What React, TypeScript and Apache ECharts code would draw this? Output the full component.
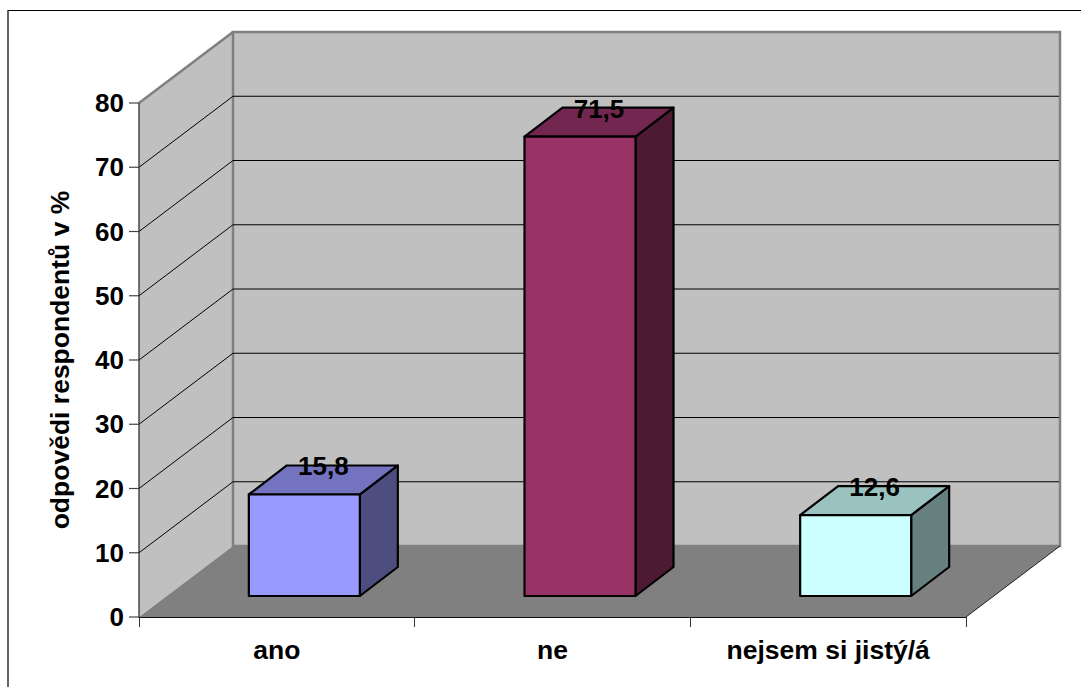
import React, { useEffect, useRef } from "react";
import * as echarts from "echarts";

const categories = ["ano", "ne", "nejsem si jistý/á"];
const values = [15.8, 71.5, 12.6];
const gridValues = [10, 20, 30, 40, 50, 60, 70];
const tickValues = [0, 10, 20, 30, 40, 50, 60, 70, 80];
const yMin = 0;
const yMax = 80;
const yStep = 10;

const frontColors = ["#9999FF", "#993366", "#CCFFFF"];
const topColors = ["#7373C0", "#732650", "#99C2C0"];
const sideColors = ["#4D4D80", "#4D1A33", "#668080"];

const FONT = '"Liberation Sans", Arial, sans-serif';
const WALL_DX = 94;
const WALL_DY = -71;
const BAR_OFFSET_DX = 27.5;
const BAR_OFFSET_DY = -21;
const BAR_DX = 38;
const BAR_DY = -29;
const BAR_RATIO = 111 / 275.67;
const TICK_LEN = 10;

const fmt = (v: number) => v.toFixed(1).replace(".", ",");

function renderWalls(_params: any, api: any) {
  const half = api.size([1, 0])[0] / 2;
  const x0 = api.coord([0, yMin])[0] - half;
  const x1 = api.coord([categories.length - 1, yMin])[0] + half;
  const y0 = api.coord([0, yMin])[1];
  const y1 = api.coord([0, yMax])[1];
  const bx0 = x0 + WALL_DX;
  const bx1 = x1 + WALL_DX;
  const children: any[] = [
    {
      type: "polygon",
      shape: { points: [[x0, y0], [bx0, y0 + WALL_DY], [bx0, y1 + WALL_DY], [x0, y1]] },
      style: { fill: "#C0C0C0" },
    },
    {
      type: "rect",
      shape: { x: bx0, y: y1 + WALL_DY, width: bx1 - bx0, height: y0 - y1 },
      style: { fill: "#C0C0C0", stroke: "#808080", lineWidth: 2.5 },
    },
    {
      type: "line",
      shape: { x1: x0, y1: y1, x2: bx0, y2: y1 + WALL_DY },
      style: { stroke: "#808080", lineWidth: 2.5 },
    },
    {
      type: "polygon",
      shape: { points: [[x0, y0], [x1, y0], [bx1, y0 + WALL_DY], [bx0, y0 + WALL_DY]] },
      style: { fill: "#808080" },
    },
    {
      type: "line",
      shape: { x1: x1, y1: y0, x2: bx1, y2: y0 + WALL_DY },
      style: { stroke: "#222222", lineWidth: 1 },
    },
  ];
  gridValues.forEach((v) => {
    const y = api.coord([0, v])[1];
    children.push({
      type: "polyline",
      shape: { points: [[x0, y], [bx0, y + WALL_DY], [bx1 - 1, y + WALL_DY]] },
      style: { stroke: "#000000", lineWidth: 1, fill: "none" },
    });
  });
  children.push({
    type: "line",
    shape: { x1: x0, y1: y1, x2: x0, y2: y0 },
    style: { stroke: "#222222", lineWidth: 1.2 },
  });
  tickValues.forEach((v) => {
    const y = api.coord([0, v])[1];
    children.push({
      type: "line",
      shape: { x1: x0 - TICK_LEN, y1: y, x2: x0, y2: y },
      style: { stroke: "#444444", lineWidth: 1.2 },
    });
  });
  return { type: "group", children };
}

function renderBar(_params: any, api: any) {
  const idx = api.value(0) as number;
  const val = api.value(1) as number;
  const w = api.size([1, 0])[0] * BAR_RATIO;
  const base = api.coord([idx, yMin]);
  const top = api.coord([idx, val]);
  const l = base[0] - w / 2 + BAR_OFFSET_DX;
  const r = l + w;
  const b = base[1] + BAR_OFFSET_DY;
  const t = top[1] + BAR_OFFSET_DY;
  const edge = { stroke: "#000000", lineWidth: 2.2, lineJoin: "round" };
  return {
    type: "group",
    children: [
      {
        type: "polygon",
        shape: { points: [[r, b], [r + BAR_DX, b + BAR_DY], [r + BAR_DX, t + BAR_DY], [r, t]] },
        style: { fill: sideColors[idx], ...edge },
      },
      {
        type: "polygon",
        shape: { points: [[l, t], [r, t], [r + BAR_DX, t + BAR_DY], [l + BAR_DX, t + BAR_DY]] },
        style: { fill: topColors[idx], ...edge },
      },
      {
        type: "rect",
        shape: { x: l, y: t, width: w, height: b - t },
        style: { fill: frontColors[idx], ...edge },
      },
      {
        type: "text",
        style: {
          text: fmt(val),
          x: (l + r) / 2 + BAR_DX / 2,
          y: t + BAR_DY + 1,
          align: "center",
          verticalAlign: "middle",
          font: `bold 26px ${FONT}`,
          fill: "#000000",
        },
      },
    ],
  };
}

export default function App() {
  const ref = useRef<HTMLDivElement>(null);
  useEffect(() => {
    const chart = echarts.init(ref.current!, undefined, { renderer: "svg" });
    chart.setOption({
      animation: false,
      backgroundColor: "#FFFFFF",
      textStyle: { fontFamily: FONT },
      graphic: [
        {
          type: "polyline",
          z: 0,
          shape: { points: [[8, 687], [8, 10.5], [1081, 10.5]] },
          style: { stroke: "#000000", lineWidth: 1.2, fill: "none" },
        },
      ],
      grid: { left: 139, top: 103, width: 827, height: 514 },
      xAxis: {
        type: "category",
        data: categories,
        z: 2,
        axisLine: { show: true, lineStyle: { color: "#111111", width: 1.2 } },
        axisTick: { show: true, alignWithLabel: false, length: 10, lineStyle: { color: "#333333", width: 1 } },
        axisLabel: { color: "#000000", fontSize: 26.5, fontWeight: "bold", fontFamily: FONT, margin: 19 },
        splitLine: { show: false },
      },
      yAxis: {
        type: "value",
        min: yMin,
        max: yMax,
        interval: yStep,
        z: 2,
        name: "odpovědi respondentů v %",
        nameLocation: "middle",
        nameRotate: 90,
        nameGap: 65.5,
        nameTextStyle: { color: "#000000", fontSize: 26.5, fontWeight: "bold", fontFamily: FONT },
        axisLine: { show: false },
        axisTick: { show: false },
        axisLabel: { color: "#000000", fontSize: 26, fontWeight: "bold", fontFamily: FONT, margin: 15 },
        splitLine: { show: false },
      },
      series: [
        {
          type: "custom",
          z: 1,
          silent: true,
          renderItem: renderWalls,
          data: [[0, yMin]],
          encode: { x: 0, y: 1 },
        },
        {
          type: "custom",
          z: 3,
          renderItem: renderBar,
          data: values.map((v, i) => [i, v]),
          encode: { x: 0, y: 1 },
        },
      ],
    });
    return () => chart.dispose();
  }, []);
  return <div ref={ref} style={{ position: "fixed", left: 0, top: 0, width: 1081, height: 687 }} />;
}
